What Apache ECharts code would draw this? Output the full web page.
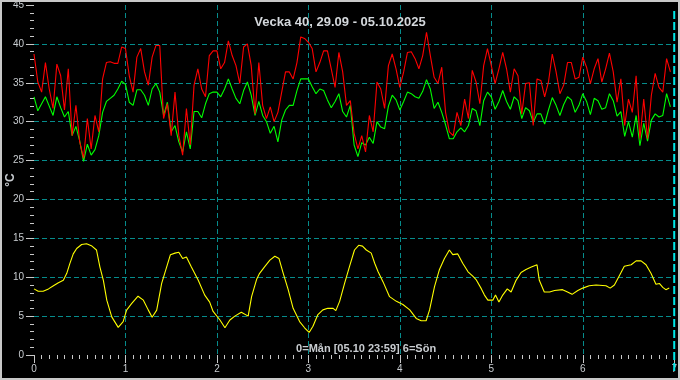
<!DOCTYPE html>
<html>
<head>
<meta charset="utf-8">
<script src="https://cdn.jsdelivr.net/npm/echarts@6/dist/echarts.min.js"></script>
<style>
html,body{margin:0;padding:0;background:#000;}
#c{width:680px;height:380px;}
</style>
</head>
<body>
<div id="c"></div>
<script>
// Red series (upper temperature), one value per hour from Monday 00:00
const redTemps = [
 38.7,35.1,33.8,37.6,34.2,31.7,37.4,35.9,31.5,36.8,28.2,32.1,27.4,25.3,30.4,26.5,30.8,28.7,35.5,37.6,37.7,37.5,37.5,39.6,
 39.4,35.9,33.8,38.3,39.4,36.4,34.7,38.3,39.8,39.8,30.4,32.3,28.2,33.8,28.2,25.7,31.7,27.0,34.7,36.8,34.2,33.2,38.5,39.1,
 39.1,36.8,37.6,40.4,38.5,37.2,34.9,39.6,40.0,37.2,31.0,37.6,32.1,30.4,31.9,30.0,31.2,33.8,36.4,36.4,35.5,37.6,40.9,40.7,
 40.2,39.4,36.4,37.6,39.1,39.1,36.8,34.4,38.9,36.4,32.1,32.7,28.5,26.5,28.2,26.1,30.8,28.7,35.1,34.2,31.7,37.2,38.7,36.8,
 34.4,36.4,38.9,39.0,38.1,36.8,38.5,41.5,38.5,35.7,34.9,37.0,31.2,28.7,28.2,31.2,29.5,32.9,30.4,36.6,35.1,32.3,37.2,39.4,
 37.2,34.9,36.8,38.9,36.8,33.8,36.8,35.9,31.0,34.9,35.0,29.5,35.5,35.3,33.2,35.1,38.7,36.4,33.6,34.7,37.6,37.6,35.5,35.7,
 38.3,37.0,34.9,36.8,38.1,35.1,36.8,38.8,36.4,32.5,35.5,29.5,32.9,31.2,35.9,27.8,32.9,27.8,33.4,36.2,34.4,33.8,38.1,36.4
];
// Green series, one value per hour
const greenTemps = [
 33.2,31.4,32.3,33.2,32.0,30.8,33.2,31.8,30.6,31.3,28.2,29.4,27.5,24.9,27.1,25.7,26.4,28.2,31.2,32.6,33.0,33.4,34.2,35.2,
 34.8,32.5,32.1,34.1,34.1,33.4,32.1,34.2,34.9,33.8,30.8,32.5,28.7,29.5,27.4,26.1,28.7,26.5,31.3,31.3,30.5,32.3,33.6,33.8,
 33.8,33.2,34.2,35.5,34.2,33.0,32.3,34.0,35.1,33.4,30.8,32.6,30.8,30.0,28.5,29.4,27.4,30.2,31.5,32.1,32.1,34.0,35.5,35.5,
 35.5,34.5,33.6,34.2,34.0,32.8,31.8,32.6,33.6,31.3,30.6,32.1,27.0,25.5,27.3,27.0,28.0,27.2,30.0,29.3,29.1,32.0,33.4,32.8,
 31.5,32.6,33.8,33.6,33.2,33.0,33.9,35.4,34.2,31.7,32.5,31.2,29.6,27.8,27.8,28.7,29.2,28.7,29.5,31.7,31.4,29.5,32.7,33.8,
 33.2,31.6,32.6,34.0,32.6,31.6,33.2,32.7,30.4,31.8,31.4,29.9,31.0,31.0,29.7,31.5,33.1,32.1,30.8,32.2,33.2,32.8,31.2,32.1,
 33.6,32.6,30.9,33.0,32.7,31.6,31.8,33.6,32.7,30.7,31.3,28.1,30.0,28.0,30.8,26.9,29.8,27.5,30.2,31.0,30.6,30.8,33.6,31.9
];
// Yellow series: sample times (hours since Monday 00:00) and temperatures
const yellowHours = [0,1.1,2.4,3.8,5.1,6.4,7.7,8.6,9.4,10.3,11.2,12.5,13.8,15.2,16.4,17.3,18.2,19.1,20.4,22.1,23.4,24.3,25.6,27.3,28.7,30,31,32.2,33.5,34.8,35.8,37,38,39,40,41.3,43.1,44.8,46.1,47,48.8,50.1,51.4,52.7,54.4,56.2,57.1,58.4,59.2,60.6,61.9,63.2,64.3,65.4,66.7,68,69.7,71,72.2,73.2,74.5,75.8,77.1,78.5,79.2,80.2,81.5,82.8,84.1,85.2,86.2,87.2,88.5,89.4,90.3,91.6,93.3,95.1,96.8,98.6,100.3,101.6,102.9,103.8,105.1,106.4,107.7,109,109.9,111.2,112.5,113.9,115.2,116,117.4,118.2,119.1,120.4,121.1,122,123,124.2,125.2,126.5,127.8,129.1,130.5,132,132.6,133.9,135.3,136.6,138.7,140,141.2,142.7,144,145.7,147.5,150.1,151.2,152.3,153.6,154.9,156.7,158,159.3,160.6,161.9,163.2,164.1,165,165.8,166.7];
const yellowTemps = [8.5,8.2,8.2,8.5,8.9,9.3,9.6,10.5,11.75,13.0,13.7,14.2,14.3,14.0,13.5,11.3,9.6,7.05,4.9,3.55,4.3,5.77,6.6,7.56,7.05,5.77,4.85,5.77,9.2,11.3,12.9,13.1,13.2,12.4,12.6,11.3,9.6,7.7,6.8,5.6,4.5,3.5,4.5,5.0,5.5,5.0,7.5,9.7,10.5,11.4,12.2,12.7,12.4,10.5,8.4,6.0,4.3,3.5,2.9,3.7,5.2,5.8,6.0,6.0,5.7,6.9,9.2,11.4,13.5,14.1,14.0,13.5,13.1,11.8,10.7,9.4,7.5,6.9,6.5,5.8,4.7,4.4,4.4,5.8,8.8,11.0,12.4,13.5,12.9,13.0,11.8,10.7,10.1,9.7,8.5,7.7,7.05,7.05,7.7,6.8,7.7,8.5,8.1,9.6,10.6,11.0,11.3,11.6,9.6,8.1,8.1,8.3,8.4,8.1,7.8,8.3,8.6,8.9,9.0,8.9,8.6,9.0,10.2,11.4,11.6,12.1,12.1,11.6,10.5,9.1,9.2,8.7,8.4,8.6];

const xTicks = [0,1,2,3,4,5,6,7];
const yTicks = [0,5,10,15,20,25,30,35,40,45];
const titleText = 'Vecka 40, 29.09 - 05.10.2025';
const xName = '0=Mån [05.10 23:59] 6=Sön';
const yName = '°C';

const hourly = (arr) => arr.map((v, i) => [i / 24, v]);
const yellowData = yellowHours.map((h, i) => [h / 24, yellowTemps[i]]);

const teal = '#068c8c';
const none = 'rgba(0,0,0,0)';
const labelColor = '#c8ccd0';
const font = 'Liberation Sans, Arial, sans-serif';
// split line colours: hide the first and last line of each axis
const xSplitColors = xTicks.map((t, i) => (i === 0 || i === xTicks.length - 1) ? none : teal);
const ySplitColors = yTicks.map((t, i) => (i === 0 || i === yTicks.length - 1) ? none : teal);

const chart = echarts.init(document.getElementById('c'), null, {renderer: 'canvas'});
const option = {
  backgroundColor: '#000000',
  animation: false,
  title: {
    text: titleText, left: 'center', top: 11,
    textStyle: {color: '#d4d8dc', fontSize: 13, fontWeight: 'bold', fontFamily: font}
  },
  grid: {left: 34, right: 5, top: 4, bottom: 25, containLabel: false},
  xAxis: {
    type: 'value', min: xTicks[0], max: xTicks[xTicks.length - 1], interval: 1,
    axisLine: {show: false},
    axisTick: {show: true, length: 8, lineStyle: {color: '#c8c8c8', width: 1}},
    minorTick: {show: true, splitNumber: 12, length: 4, lineStyle: {color: '#c8c8c8', width: 1}},
    axisLabel: {color: labelColor, fontSize: 10, fontFamily: font, margin: 9},
    splitLine: {show: true, lineStyle: {color: xSplitColors, type: [5, 3], width: 1}}
  },
  yAxis: {
    type: 'value', min: yTicks[0], max: yTicks[yTicks.length - 1], interval: 5,
    axisLine: {show: false},
    axisTick: {show: true, length: 8, lineStyle: {color: '#c8c8c8', width: 1}},
    minorTick: {show: true, splitNumber: 5, length: 4, lineStyle: {color: '#c8c8c8', width: 1}},
    axisLabel: {color: labelColor, fontSize: 10, fontFamily: font, margin: 10},
    splitLine: {show: true, lineStyle: {color: ySplitColors, type: [5, 3], width: 1}}
  },
  series: [
    {type: 'line', data: yellowData, showSymbol: false, lineStyle: {color: '#ffff00', width: 1.1}, itemStyle: {color: '#ffff00'}, z: 3},
    {type: 'line', data: hourly(greenTemps), showSymbol: false, lineStyle: {color: '#00ff00', width: 1.1}, itemStyle: {color: '#00ff00'}, z: 4},
    {type: 'line', data: hourly(redTemps), showSymbol: false, lineStyle: {color: '#ff0000', width: 1.1}, itemStyle: {color: '#ff0000'}, z: 5}
  ]
};
chart.setOption(option);

const gridTop = chart.convertToPixel({yAxisIndex: 0}, yTicks[yTicks.length - 1]);
const gridBottom = chart.convertToPixel({yAxisIndex: 0}, yTicks[0]);
const xEnd = chart.convertToPixel({xAxisIndex: 0}, xTicks[xTicks.length - 1]);
const xMid = chart.convertToPixel({xAxisIndex: 0}, 3.5);

chart.setOption({
  graphic: [
    {type: 'rect', shape: {x: 1, y: 1, width: 678, height: 378}, style: {fill: 'none', stroke: '#c8c8c8', lineWidth: 2}, z: 100, silent: true},
    {type: 'line', shape: {x1: xEnd, y1: gridTop + 6, x2: xEnd, y2: gridBottom + 18}, style: {stroke: '#00e8e8', lineWidth: 2, lineDash: [8, 3]}, z: 50, silent: true},
    {type: 'text', x: xMid + 12, y: gridBottom - 6, style: {text: xName, fill: '#c8ccd0', font: 'bold 11px ' + font, textAlign: 'center', textVerticalAlign: 'middle'}, z: 60},
    {type: 'text', x: 11, y: 180, rotation: Math.PI / 2, style: {text: yName, fill: '#c8ccd0', font: 'bold 12px ' + font, textAlign: 'center', textVerticalAlign: 'middle'}, z: 60}
  ]
});
</script>
</body>
</html>
